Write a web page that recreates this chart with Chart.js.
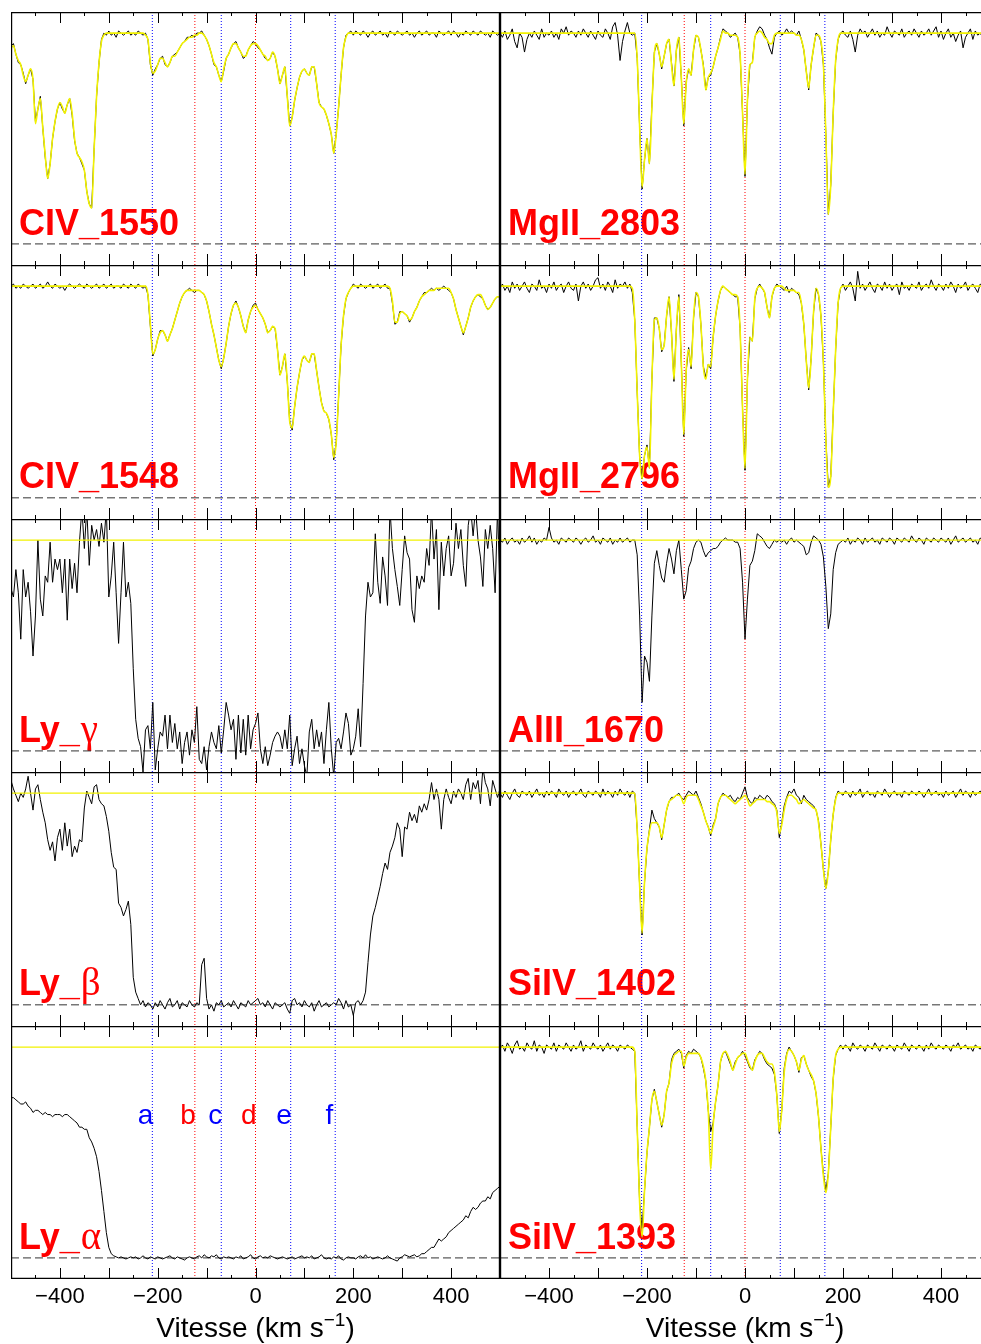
<!DOCTYPE html>
<html lang="fr">
<head>
  <meta charset="UTF-8" />
  <title>Profils d'absorption</title>
  <script src="https://cdn.jsdelivr.net/npm/chart.js"></script>
  <style>
    html, body {
      margin: 0;
      background: #fff;
      overflow: hidden;
    }
    body {
      position: relative;
      width: 981px;
      height: 1344px;
    }
    canvas {
      position: absolute;
    }
  </style>
</head>
<body>
  <canvas id="civ1550" width="489" height="253" style="left:11px;top:12px"></canvas>
  <canvas id="mg2803" width="490" height="253" style="left:500px;top:12px"></canvas>
  <canvas id="civ1548" width="489" height="254" style="left:11px;top:265px"></canvas>
  <canvas id="mg2796" width="490" height="254" style="left:500px;top:265px"></canvas>
  <canvas id="lyg" width="489" height="253" style="left:11px;top:519px"></canvas>
  <canvas id="al1670" width="490" height="253" style="left:500px;top:519px"></canvas>
  <canvas id="lyb" width="489" height="254" style="left:11px;top:772px"></canvas>
  <canvas id="si1402" width="490" height="254" style="left:500px;top:772px"></canvas>
  <canvas id="lya" width="489" height="318" style="left:11px;top:1026px"></canvas>
  <canvas id="si1393" width="490" height="318" style="left:500px;top:1026px"></canvas>

<script>
  // velocity grid (km/s), shared by every spectrum below
  const vel = [
    -500,-495,-490,-485,-480,-475,-470,-465,-460,-455,
    -450,-445,-440,-435,-430,-425,-420,-415,-410,-405,
    -400,-395,-390,-385,-380,-375,-370,-365,-360,-355,
    -350,-345,-340,-335,-330,-325,-320,-315,-310,-305,
    -300,-295,-290,-285,-280,-275,-270,-265,-260,-255,
    -250,-245,-240,-235,-230,-225,-220,-215,-210,-205,
    -200,-195,-190,-185,-180,-175,-170,-165,-160,-155,
    -150,-145,-140,-135,-130,-125,-120,-115,-110,-105,
    -100,-95,-90,-85,-80,-75,-70,-65,-60,-55,
    -50,-45,-40,-35,-30,-25,-20,-15,-10,-5,
    0,5,10,15,20,25,30,35,40,45,
    50,55,60,65,70,75,80,85,90,95,
    100,105,110,115,120,125,130,135,140,145,
    150,155,160,165,170,175,180,185,190,195,
    200,205,210,215,220,225,230,235,240,245,
    250,255,260,265,270,275,280,285,290,295,
    300,305,310,315,320,325,330,335,340,345,
    350,355,360,365,370,375,380,385,390,395,
    400,405,410,415,420,425,430,435,440,445,
    450,455,460,465,470,475,480,485,490,495,
    500
  ];

  // component velocities and their markers
  const compVel = [-211, -124, -70, 0, 72, 163];
  const compName = ['a', 'b', 'c', 'd', 'e', 'f'];
  const compColor = ['#0000ff', '#ff0000', '#0000ff', '#ff0000', '#0000ff', '#0000ff'];

  // axis ticks
  const tickMarks = [-450,-400,-350,-300,-250,-200,-150,-100,-50,0,50,100,150,200,250,300,350,400,450];
  const tickLabels = [-400, -200, 0, 200, 400];

  // flat continuum drawn on the unfitted panels
  const contVel = [-500, 500];
  const contFlux = [100, 100];

  // normalised flux, in percent
  const civ1550Data = [
    94,95,90,86,85,81,76,80,83,78,
    58,64,70,55,41,31,38,50,58,64,
    67,64,62,66,69,61,49,43,41,38,
    35,25,19,17,45,70,86,97,100,99,
    101,99,100,98,101,100,99,100,101,99,
    100,99,101,100,99,100,97,85,80,83,
    85,88,89,85,84,86,89,90,91,93,
    95,96,98,98,99,98,100,100,101,99,
    97,94,90,85,84,80,77,82,88,90,
    93,95,96,93,91,88,89,92,94,96,
    95,93,92,90,88,87,88,91,89,83,
    76,80,84,70,56,60,68,74,79,82,
    83,81,80,84,84,76,67,65,64,61,
    57,52,43,52,65,80,93,99,100,101,
    99,101,100,99,101,100,98,100,101,99,
    100,101,99,100,98,101,100,99,101,100,
    99,100,101,99,100,98,100,101,99,100,
    101,99,100,100,98,101,100,99,100,101,
    99,101,100,98,100,99,101,100,99,101,
    100,99,101,100,99,100,98,101,100,99,
    100
  ];
  const civ1550Fit = [
    93,94,90,87,85,80,77,80,83,78,
    57,64,69,55,42,31,38,50,58,64,
    67,65,62,66,69,62,50,43,41,39,
    35,25,19,17,45,70,86,96,99,100,
    100,100,100,100,100,100,100,100,100,100,
    100,100,100,100,100,99,97,86,81,82,
    85,88,88,86,84,86,89,89,91,93,
    95,96,97,98,98,99,99,100,100,99,
    97,94,90,86,84,80,77,83,88,90,
    93,95,95,93,91,89,89,92,94,95,
    95,94,92,90,89,87,88,91,89,83,
    76,80,84,70,56,60,68,74,79,82,
    83,81,80,84,84,76,67,65,64,61,
    57,52,43,52,65,80,93,98,100,100,
    100,100,100,100,100,100,100,100,100,100,
    100,100,100,100,100,100,100,100,100,100,
    100,100,100,100,100,100,100,100,100,100,
    100,100,100,100,100,100,100,100,100,100,
    100,100,100,100,100,100,100,100,100,100,
    100,100,100,100,100,100,100,100,100,100,
    100
  ];

  const civ1548Data = [
    100,101,99,100,99,101,100,99,100,101,
    99,100,101,99,100,102,100,99,101,100,
    99,100,98,100,101,100,99,100,101,100,
    99,101,100,99,100,101,99,100,101,99,
    100,101,99,100,100,99,101,100,99,101,
    100,99,101,100,99,100,96,81,67,70,
    75,79,79,77,74,77,80,84,88,92,
    95,97,98,99,98,97,98,98,97,96,
    93,88,82,77,71,65,61,66,73,81,
    87,91,93,90,86,81,78,84,88,91,
    92,89,87,85,82,78,79,81,80,70,
    58,62,68,55,36,32,43,52,59,65,
    67,65,64,68,68,60,52,45,41,40,
    37,30,18,26,48,72,86,94,97,99,
    101,100,99,101,100,99,100,101,99,100,
    101,99,100,101,99,99,92,82,83,88,
    88,87,86,83,85,88,90,93,95,97,
    97,98,99,98,99,98,99,100,99,98,
    97,94,89,85,81,77,81,85,90,93,
    95,96,95,94,91,89,90,92,94,95,
    95
  ];
  const civ1548Fit = [
    100,100,100,100,100,100,100,100,100,100,
    100,100,100,100,100,100,100,100,100,100,
    100,100,100,100,100,100,100,100,100,100,
    100,100,100,100,100,100,100,100,100,100,
    100,100,100,100,100,100,100,100,100,100,
    100,100,100,100,100,100,96,82,68,70,
    75,78,79,77,74,77,80,84,88,92,
    95,97,98,98,98,98,98,98,97,96,
    93,88,82,77,71,65,62,66,73,81,
    87,91,92,90,86,81,78,84,88,90,
    91,89,87,85,82,78,79,81,80,70,
    58,62,68,55,36,33,43,52,59,65,
    67,65,64,68,68,60,52,45,41,40,
    37,30,19,26,48,72,86,94,97,99,
    100,100,100,100,100,100,100,100,100,100,
    100,100,100,100,100,99,93,83,83,87,
    88,87,86,84,85,88,90,93,95,96,
    97,98,98,98,99,99,99,99,99,99,
    97,94,89,85,81,78,81,85,90,93,
    95,96,96,94,91,89,90,92,94,95,
    95
  ];

  const mg2803Data = [
    100,98,101,97,99,102,96,93,100,98,
    91,97,100,98,101,99,97,102,98,100,
    99,101,98,100,97,102,100,103,99,101,
    100,98,101,99,102,100,98,101,99,97,
    101,99,98,102,100,97,103,105,99,87,
    96,101,105,100,99,100,88,55,26,40,
    50,38,66,91,95,90,83,89,95,97,
    86,75,92,98,79,56,77,83,80,92,
    99,98,92,85,73,79,80,84,89,93,
    98,102,101,100,98,99,100,98,90,62,
    32,68,85,86,98,101,103,102,99,97,
    93,90,98,100,101,99,100,102,100,101,
    100,99,101,97,92,82,73,85,93,100,
    99,96,85,52,14,28,62,87,97,100,
    101,99,98,101,97,91,99,102,100,101,
    98,100,102,99,101,98,100,99,103,100,
    98,101,100,99,102,98,100,101,99,102,
    100,98,101,99,100,102,99,101,103,98,
    101,97,100,102,98,100,96,99,101,93,
    98,100,102,97,101,99,100,98,102,99,
    101
  ];
  const mg2803Fit = [
    100,100,100,100,100,100,100,100,100,100,
    100,100,100,100,100,100,100,100,100,100,
    100,100,100,100,100,100,100,100,100,100,
    100,100,100,100,100,100,100,100,100,100,
    100,100,100,100,100,100,100,100,100,100,
    100,100,100,100,100,100,88,55,27,40,
    50,38,65,90,95,90,84,89,95,97,
    85,75,92,98,79,57,76,83,80,92,
    99,98,92,84,73,79,81,84,89,93,
    97,101,100,100,99,99,99,98,90,62,
    33,68,85,86,98,100,101,100,98,97,
    95,95,99,100,100,100,100,100,100,100,
    100,99,99,97,92,82,74,85,93,99,
    99,96,85,52,14,28,62,87,97,100,
    100,100,100,100,100,100,100,100,100,100,
    100,100,100,100,100,100,100,100,100,100,
    100,100,100,100,100,100,100,100,100,100,
    100,100,100,100,100,100,100,100,100,100,
    100,100,100,100,100,100,100,100,100,100,
    100,100,100,100,100,100,100,100,100,100,
    100
  ];

  const mg2796Data = [
    99,101,98,100,97,102,99,101,98,100,
    102,99,97,101,100,98,103,99,100,97,
    101,99,102,98,100,101,97,100,102,99,
    98,101,93,100,102,99,101,98,100,103,
    104,99,101,98,102,100,97,103,99,101,
    100,102,99,101,97,84,50,19,9,20,
    25,14,56,85,85,80,69,72,86,95,
    78,55,80,96,64,29,60,71,61,85,
    97,95,82,62,57,63,61,76,86,93,
    98,100,99,98,97,96,95,95,80,42,
    13,56,76,74,94,99,101,99,97,90,
    85,95,99,101,100,99,98,100,97,99,
    98,97,96,92,82,65,51,66,88,99,
    96,86,64,28,5,10,40,70,92,99,
    101,98,100,102,99,93,107,99,101,98,
    100,102,99,97,101,100,98,102,99,101,
    98,100,101,96,102,99,100,98,101,100,
    99,102,98,100,101,99,103,100,98,101,
    100,98,101,99,102,100,97,101,99,100,
    102,98,100,101,99,97,101,100,98,101,
    100
  ];
  const mg2796Fit = [
    100,100,100,100,100,100,100,100,100,100,
    100,100,100,100,100,100,100,100,100,100,
    100,100,100,100,100,100,100,100,100,100,
    100,100,100,100,100,100,100,100,100,100,
    100,100,100,100,100,100,100,100,100,100,
    100,100,100,100,99,84,50,20,9,20,
    24,14,56,84,85,80,70,72,86,95,
    78,56,80,95,64,30,60,70,62,85,
    97,95,82,62,56,63,62,76,86,93,
    98,100,99,98,97,96,96,95,80,42,
    14,56,76,74,94,99,100,99,97,90,
    85,95,99,100,100,100,99,98,98,98,
    98,97,97,92,82,65,52,66,88,99,
    96,86,64,28,5,10,40,70,92,99,
    100,100,100,100,100,100,100,100,100,100,
    100,100,100,100,100,100,100,100,100,100,
    100,100,100,100,100,100,100,100,100,100,
    100,100,100,100,100,100,100,100,100,100,
    100,100,100,100,100,100,100,100,100,100,
    100,100,100,100,100,100,100,100,100,100,
    100
  ];

  const lygData = [
    77,73,86,75,53,86,73,80,66,45,
    64,100,72,64,83,80,99,80,91,86,
    91,75,91,62,91,77,89,75,99,115,
    96,115,88,107,100,105,97,108,99,115,
    73,83,99,75,51,75,99,73,80,70,
    39,15,6,2,-10,10,12,1,23,-9,
    1,9,7,17,1,17,4,13,1,9,
    -6,4,9,-2,10,4,21,-4,-6,2,
    -9,2,9,4,1,12,-1,10,23,17,
    10,15,-4,17,-1,15,-2,17,1,10,
    13,18,1,-6,2,-7,-2,4,7,9,
    7,1,10,1,17,-7,1,7,-6,1,
    -7,-12,9,15,1,10,2,9,-6,10,
    23,1,-12,4,6,1,9,18,13,-2,
    1,7,20,2,32,64,80,73,75,103,
    80,70,92,83,69,115,96,86,78,69,
    86,102,94,91,67,61,83,77,83,80,
    96,88,115,91,105,67,99,83,96,102,
    83,89,108,96,105,88,78,107,115,102,
    115,100,92,78,105,96,107,96,75,115,
    75
  ];

  const al1670Data = [
    100,99,101,98,100,101,99,100,98,101,
    99,100,102,99,101,98,100,99,101,100,
    106,101,99,100,98,101,100,99,101,100,
    99,101,100,98,100,101,99,100,102,99,
    100,98,101,100,99,101,98,100,99,101,
    99,100,101,99,100,100,93,64,23,45,
    42,33,64,89,95,88,82,80,89,96,
    91,84,95,100,86,72,76,87,90,96,
    99,100,99,95,92,94,95,96,96,97,
    99,100,101,100,100,100,99,99,96,80,
    53,72,88,90,95,103,102,101,99,97,
    96,98,100,99,100,99,100,98,100,101,
    99,100,99,98,97,93,94,99,102,101,
    100,98,92,78,58,65,86,94,98,99,
    100,99,101,98,100,99,101,100,98,101,
    99,100,101,99,100,98,101,100,99,101,
    100,98,101,100,99,101,100,99,102,100,
    99,101,100,98,101,100,99,101,100,99,
    101,100,99,101,98,100,102,99,100,101,
    99,100,101,99,100,98,101,100,99,102,
    101
  ];

  const lybData = [
    106,102,99,96,100,98,102,108,100,92,
    102,104,97,91,86,78,73,77,68,79,
    83,73,86,75,83,70,75,72,78,77,
    93,101,98,95,103,104,97,95,94,89,
    82,72,65,64,48,46,42,45,49,38,
    13,6,3,0,2,-1,1,0,-2,1,
    -1,2,0,-2,1,3,-1,0,2,-2,
    1,0,-1,2,0,-1,1,0,19,22,
    3,-2,0,-3,1,0,2,-1,0,1,
    -1,2,0,-2,1,0,-1,2,0,1,
    2,3,0,1,-1,2,0,-2,1,0,
    -1,0,1,-2,-4,2,3,0,1,-1,
    2,0,-1,1,-3,0,2,-1,0,1,
    -1,0,1,0,3,1,-2,2,-1,0,
    -5,1,2,0,2,6,20,33,42,46,
    51,56,62,67,64,72,75,79,86,83,
    70,84,83,91,87,90,86,94,91,95,
    92,97,105,97,102,97,83,97,102,98,
    95,101,98,102,100,97,104,107,97,105,
    102,106,95,112,105,102,94,106,102,98,
    102
  ];

  const si1402Data = [
    100,98,101,99,97,100,102,99,98,101,
    100,99,101,98,100,102,99,100,98,101,
    99,101,100,98,102,100,99,101,98,100,
    101,99,100,102,99,98,101,100,99,101,
    100,98,102,99,101,100,98,101,99,102,
    100,99,101,98,101,100,83,56,33,58,
    74,83,92,88,86,84,78,85,92,96,
    98,98,99,100,98,97,99,101,100,99,
    101,98,95,91,87,84,80,85,88,95,
    98,100,99,98,99,97,96,98,97,100,
    103,98,96,95,98,97,99,98,97,99,
    98,96,95,92,79,86,94,98,101,100,
    102,99,98,95,99,97,96,95,94,92,
    87,76,64,55,63,78,90,98,101,100,
    99,101,100,98,101,99,100,102,98,100,
    101,99,100,98,101,100,99,102,100,98,
    100,101,99,100,98,101,100,99,101,100,
    99,101,100,98,100,102,99,100,101,99,
    100,98,101,99,100,101,98,100,102,99,
    101,100,98,101,99,100,101,99,100,101,
    100
  ];
  const si1402Fit = [
    100,100,100,100,100,100,100,100,100,100,
    100,100,100,100,100,100,100,100,100,100,
    100,100,100,100,100,100,100,100,100,100,
    100,100,100,100,100,100,100,100,100,100,
    100,100,100,100,100,100,100,100,100,100,
    100,100,100,100,100,100,83,56,34,58,
    74,82,86,86,86,84,79,85,92,96,
    97,98,99,99,98,95,98,99,99,99,
    99,97,94,91,87,84,81,84,88,95,
    98,99,99,98,97,96,95,96,97,98,
    99,97,94,95,96,97,97,97,97,96,
    96,95,94,91,81,85,92,97,99,99,
    98,97,95,96,97,96,95,94,93,92,
    86,76,64,55,63,78,90,97,100,100,
    100,100,100,100,100,100,100,100,100,100,
    100,100,100,100,100,100,100,100,100,100,
    100,100,100,100,100,100,100,100,100,100,
    100,100,100,100,100,100,100,100,100,100,
    100,100,100,100,100,100,100,100,100,100,
    100,100,100,100,100,100,100,100,100,100,
    100
  ];

  const lyaData = [
    76,76,75,74,73,73,74,72,71,69,
    70,70,69,68,69,68,68,67,68,68,
    68,67,68,68,67,66,65,64,62,62,
    61,61,57,55,52,48,41,32,22,12,
    5,2,1,0.5,0,0.5,0,-0.5,0,0.5,
    0,0.5,-0.5,0,1,0,-0.5,0.5,0,-0.5,
    0.5,0,-0.5,0,0.5,1,0,-0.5,0.5,0,
    -0.5,-1,0,0.5,0,-0.5,0.5,1,0,1.5,
    0.5,0,1,0.5,1.5,0,-0.5,0.5,0,0.5,
    0,-0.5,0.5,0,1,-0.5,0,0.5,1.5,0,
    -0.5,0.5,1,0,0.5,0,1,0.5,0,-0.5,
    0,0.5,0,-0.5,0,0.5,-0.5,0,0.5,1,
    0,0.5,0,1,-0.5,0,0.5,1.5,0,-0.5,
    0,-0.5,0.5,0,1,-0.5,-1,0,0.5,0,
    0,-0.5,0.5,1,0,1.5,0,0.5,-0.5,0,
    0.5,0,-0.5,0,1,0,-0.5,-1,-1.5,0,
    0.5,1.5,1,0.5,1,1.5,0.5,1,2,2,
    3,4,5,5,7,9,8,9,10,12,
    13,14,15,16,17,18,20,19,22,24,
    23,24,26,27,27,29,28,31,32,33,
    34
  ];

  const si1393Data = [
    99,101,98,102,100,97,101,103,99,100,
    98,102,100,99,103,98,101,100,97,101,
    100,99,102,98,101,100,99,102,100,98,
    101,99,100,103,98,101,100,99,102,100,
    99,101,98,100,102,99,101,100,98,101,
    100,99,101,100,99,98,62,26,14,32,
    50,62,75,80,74,68,62,68,79,83,
    94,97,98,99,97,90,96,98,97,99,
    98,97,95,90,84,70,60,64,74,82,
    93,97,98,95,92,89,93,95,96,98,
    96,93,90,89,94,96,98,97,94,92,
    91,90,87,77,59,70,90,97,100,98,
    96,93,88,95,96,92,89,86,84,78,
    67,52,40,32,40,62,85,96,99,101,
    99,101,100,98,102,100,99,101,100,98,
    101,100,99,102,100,98,101,100,99,101,
    100,98,101,100,99,102,100,98,101,100,
    99,101,100,98,101,99,102,100,99,101,
    100,99,101,100,98,101,100,102,99,100,
    101,99,100,98,101,100,99,101,100,99,
    101
  ];
  const si1393Fit = [
    100,100,100,100,100,100,100,100,100,100,
    100,100,100,100,100,100,100,100,100,100,
    100,100,100,100,100,100,100,100,100,100,
    100,100,100,100,100,100,100,100,100,100,
    100,100,100,100,100,100,100,100,100,100,
    100,100,100,100,100,98,62,26,10,32,
    50,62,75,79,74,68,63,68,79,83,
    92,96,97,98,98,91,95,97,97,97,
    97,97,95,91,84,70,42,63,74,82,
    93,97,98,96,93,89,92,95,96,97,
    97,94,91,89,93,96,97,97,95,93,
    92,92,88,77,60,70,88,96,99,98,
    96,93,89,94,96,92,89,87,84,78,
    67,52,39,31,40,62,85,96,99,100,
    100,100,100,100,100,100,100,100,100,100,
    100,100,100,100,100,100,100,100,100,100,
    100,100,100,100,100,100,100,100,100,100,
    100,100,100,100,100,100,100,100,100,100,
    100,100,100,100,100,100,100,100,100,100,
    100,100,100,100,100,100,100,100,100,100,
    100
  ];

  const SANS = '"Liberation Sans", Arial, sans-serif';

  // frame, inward ticks, line name, component markers
  const panelDecor = {
    id: 'panelDecor',
    beforeDatasetsDraw(chart, args, opts) {
      const { ctx, chartArea: a, scales: { x, y } } = chart;
      ctx.save();

      ctx.fillStyle = '#ff0000';
      ctx.textAlign = 'left';
      ctx.textBaseline = 'alphabetic';
      ctx.font = 'bold 36px ' + SANS;
      const lx = a.left + 8, ly = a.top + 223;
      ctx.fillText(opts.label, lx, ly);
      if (opts.greek) {
        const w = ctx.measureText(opts.label).width;
        ctx.font = '39px "Liberation Serif", serif';
        ctx.fillText(opts.greek, lx + w + 1, ly);
      }

      if (opts.letters) {
        ctx.font = '28px ' + SANS;
        ctx.textAlign = 'right';
        compVel.forEach((v, i) => {
          ctx.fillStyle = compColor[i];
          const nudge = compName[i] === 'f' ? -2 : 1;
          ctx.fillText(compName[i], x.getPixelForValue(v) + nudge, a.top + 98);
        });
      }

      ctx.lineWidth = 1;
      ctx.setLineDash([1, 2]);
      compVel.forEach((v, i) => {
        const px = x.getPixelForValue(v);
        ctx.strokeStyle = compColor[i];
        ctx.beginPath();
        ctx.moveTo(px, a.top);
        ctx.lineTo(px, a.bottom);
        ctx.stroke();
      });

      ctx.setLineDash([8, 4]);
      ctx.strokeStyle = '#333';
      const y0 = y.getPixelForValue(0);
      ctx.beginPath();
      ctx.moveTo(a.left, y0);
      ctx.lineTo(a.right, y0);
      ctx.stroke();
      ctx.restore();
    },
    afterDatasetsDraw(chart, args, opts) {
      const { ctx, chartArea: a, scales: { x } } = chart;
      ctx.save();
      ctx.strokeStyle = '#000';
      ctx.lineWidth = 1.2;
      ctx.beginPath();
      ctx.moveTo(a.left + 0.6, a.bottom);
      ctx.lineTo(a.left + 0.6, a.top + 0.6);
      ctx.lineTo(a.right - 0.6, a.top + 0.6);
      ctx.lineTo(a.right - 0.6, a.bottom);
      if (opts.bottom) {
        ctx.moveTo(a.left, a.bottom - 0.6);
        ctx.lineTo(a.right, a.bottom - 0.6);
      }
      ctx.stroke();

      ctx.lineWidth = 1;
      ctx.beginPath();
      tickMarks.forEach(v => {
        const px = Math.round(x.getPixelForValue(v)) + 0.5;
        const len = v % 100 === 0 ? 11 : 4;
        ctx.moveTo(px, a.top);
        ctx.lineTo(px, a.top + len);
        ctx.moveTo(px, a.bottom);
        ctx.lineTo(px, a.bottom - len);
      });
      ctx.stroke();
      ctx.restore();
    },
    afterDraw(chart, args, opts) {
      if (!opts.bottom) return;
      const { ctx, chartArea: a, scales: { x } } = chart;
      ctx.save();
      ctx.fillStyle = '#000';
      ctx.textAlign = 'left';
      ctx.textBaseline = 'alphabetic';
      const main = 'Vitesse (km s', sup = '\u22121', close = ')';
      ctx.font = '28px ' + SANS;
      const w1 = ctx.measureText(main).width;
      const w3 = ctx.measureText(close).width;
      ctx.font = '19px ' + SANS;
      const w2 = ctx.measureText(sup).width;
      let tx = x.getPixelForValue(0) - (w1 + w2 + w3) / 2;
      const base = a.bottom + 58;
      ctx.font = '28px ' + SANS;
      ctx.fillText(main, tx, base);
      tx += w1;
      ctx.font = '19px ' + SANS;
      ctx.fillText(sup, tx, base - 11);
      tx += w2;
      ctx.font = '28px ' + SANS;
      ctx.fillText(close, tx, base);
      ctx.restore();
    }
  };

  const toPoints = (xs, ys) => xs.map((v, i) => ({ x: v, y: ys[i] }));

  function makePanel(id, label, greek, flux, fit, bottom) {
    const fitLine = fit
      ? { data: toPoints(vel, fit), borderColor: '#f2f200', borderWidth: 1.6,
          cubicInterpolationMode: 'monotone' }
      : { data: toPoints(contVel, contFlux), borderColor: '#f2f200', borderWidth: 1.2 };

    const xAxis = {
      type: 'linear', min: -500, max: 500,
      display: bottom,
      grid: { display: false, drawTicks: false },
      border: { display: false },
      afterBuildTicks: s => { s.ticks = tickLabels.map(v => ({ value: v })); },
      ticks: {
        autoSkip: false, maxRotation: 0, padding: 5, color: '#000',
        font: { family: SANS, size: 22 },
        callback: v => (v < 0 ? '\u2212' + Math.abs(v) : String(v))
      }
    };
    // room under the bottom row for tick labels and the axis title
    if (bottom) xAxis.afterFit = s => { s.height = 65; };

    new Chart(document.getElementById(id), {
      type: 'line',
      data: {
        datasets: [
          Object.assign(fitLine, { pointRadius: 0, order: 0 }),
          { data: toPoints(vel, flux), borderColor: '#000', borderWidth: 1,
            pointRadius: 0, tension: 0, order: 1 }
        ]
      },
      options: {
        responsive: false,
        animation: false,
        events: [],
        layout: { padding: 0 },
        scales: {
          x: xAxis,
          y: { type: 'linear', min: -10, max: 110, display: false }
        },
        plugins: {
          legend: { display: false },
          tooltip: { enabled: false },
          panelDecor: { label, greek, bottom, letters: id === 'lya' }
        }
      },
      plugins: [panelDecor]
    });
  }

  makePanel('civ1550', 'CIV_1550', '', civ1550Data, civ1550Fit, false);
  makePanel('mg2803', 'MgII_2803', '', mg2803Data, mg2803Fit, false);
  makePanel('civ1548', 'CIV_1548', '', civ1548Data, civ1548Fit, false);
  makePanel('mg2796', 'MgII_2796', '', mg2796Data, mg2796Fit, false);
  makePanel('lyg', 'Ly_', '\u03b3', lygData, null, false);
  makePanel('al1670', 'AlII_1670', '', al1670Data, null, false);
  makePanel('lyb', 'Ly_', '\u03b2', lybData, null, false);
  makePanel('si1402', 'SiIV_1402', '', si1402Data, si1402Fit, false);
  makePanel('lya', 'Ly_', '\u03b1', lyaData, null, true);
  makePanel('si1393', 'SiIV_1393', '', si1393Data, si1393Fit, true);
</script>
</body>
</html>
